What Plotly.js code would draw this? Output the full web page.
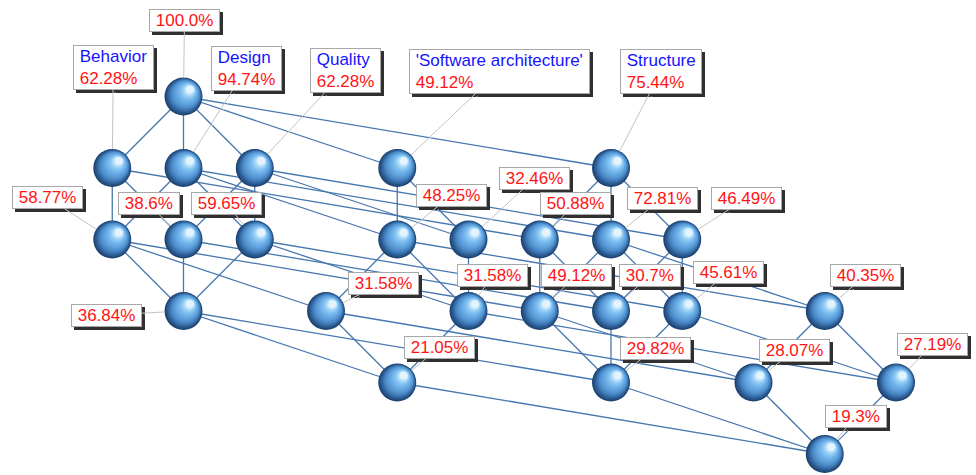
<!DOCTYPE html>
<html>
<head>
<meta charset="utf-8">
<script src="https://cdn.plot.ly/plotly-3.0.1.min.js"></script>
<style>
  html, body { margin: 0; padding: 0; background: #ffffff; }
  #chart { width: 976px; height: 475px; overflow: hidden; }
</style>
</head>
<body>
<div id="chart"></div>
<script>
// ---------------- DATA ----------------
const attributeKeys = ['B', 'D', 'Q', 'S', 'T'];
const attributeNames = ['Behavior', 'Design', 'Quality', "'Software architecture'", 'Structure'];

// concept intents (sets of attribute keys) of the lattice
const conceptIntents = [
  '',
  'B', 'D', 'Q', 'S', 'T',
  'BD', 'BQ', 'DQ', 'DS', 'QS', 'BT', 'DT', 'QT',
  'BDQ', 'BDS', 'DQS', 'BDT', 'BQT', 'DQT', 'DST',
  'BDQS', 'BDQT', 'BDST', 'DQST',
  'BDQST'
];
// support (percentage of objects) of each concept
const conceptSupport = [
  100.0,
  62.28, 94.74, 62.28, 49.12, 75.44,
  58.77, 38.6, 59.65, 48.25, 32.46, 50.88, 72.81, 46.49,
  36.84, 31.58, 31.58, 49.12, 30.7, 45.61, 40.35,
  21.05, 29.82, 28.07, 27.19,
  19.3
];

// ---------------- LAYOUT PARAMETERS ----------------
// horizontal layout vector (in columns) of each attribute
const attributeColumn = { B: -1, D: 0, Q: 1, S: 3, T: 6 };
// label box offsets from node (pixels)
const labelDx = [1, 1, 63, 91, 102, 50, -65, -35, -28, 54, 66, 36, 51, 64, -77, 57, 24, 37, 39, 46, 41, 42, 44, 41, 36, 31];
const labelDy = [-76, -101, -100, -98, -97, -97, -42, -36, -36, -44, -61, -36, -41, -41, 4, -28, -36, -36, -36, -39, -36, -35, -34, -32, -38, -38];

const W = 976, H = 475;
const COL_PX = 71.25, ROW_PX = 71.5, X0 = 183.5, Y0 = 96.5;
const NODE_SIZE = 38;
const FONT = 'Liberation Sans, Arial, sans-serif';
const SHADOW = 3;

// sphere shading stops (t: 0 = rim, 1 = highlight)
const shadeStops = [
  [0.00, [30, 68, 114]],
  [0.14, [48, 100, 156]],
  [0.30, [76, 138, 200]],
  [0.50, [98, 165, 224]],
  [0.70, [124, 189, 239]],
  [0.85, [162, 212, 247]],
  [1.00, [228, 244, 254]]
];
const SHADE_LAYERS = 16;
const LIGHT_DX = 6.5, LIGHT_DY = -7;   // pixel direction of the highlight

// ---------------- BUILD ----------------
const nodeX = conceptIntents.map(s => s.split('').reduce((a, k) => a + attributeColumn[k], 0));
const nodeY = conceptIntents.map(s => s.length);

function isSubset(a, b) { return a.split('').every(c => b.includes(c)); }
const edgeX = [], edgeY = [];
for (let i = 0; i < conceptIntents.length; i++) {
  for (let j = 0; j < conceptIntents.length; j++) {
    const a = conceptIntents[i], b = conceptIntents[j];
    if (a.length >= b.length || !isSubset(a, b)) continue;
    let cover = true;
    for (let k = 0; k < conceptIntents.length && cover; k++) {
      const c = conceptIntents[k];
      if (c.length > a.length && c.length < b.length && isSubset(a, c) && isSubset(c, b)) cover = false;
    }
    if (cover) { edgeX.push(nodeX[i], nodeX[j], null); edgeY.push(nodeY[i], nodeY[j], null); }
  }
}

const pxX = px => px / COL_PX;
const pxY = px => px / ROW_PX;

function shade(t) {
  for (let i = 1; i < shadeStops.length; i++) {
    if (t <= shadeStops[i][0]) {
      const [t0, c0] = shadeStops[i - 1], [t1, c1] = shadeStops[i];
      const f = (t - t0) / (t1 - t0);
      const c = c0.map((v, k) => Math.round(v + (c1[k] - v) * f));
      return 'rgb(' + c.join(',') + ')';
    }
  }
  return 'rgb(' + shadeStops[shadeStops.length - 1][1].join(',') + ')';
}

const traces = [{
  x: edgeX, y: edgeY, mode: 'lines', type: 'scatter', hoverinfo: 'skip',
  line: { color: '#4677b0', width: 1.3 }
}];
for (let k = 0; k < SHADE_LAYERS; k++) {
  const t = k / (SHADE_LAYERS - 1);
  const size = NODE_SIZE * (1 - 0.8 * t);
  traces.push({
    x: nodeX.map(v => v + pxX(LIGHT_DX * t)),
    y: nodeY.map(v => v + pxY(LIGHT_DY * t)),
    mode: 'markers', type: 'scatter', hoverinfo: 'skip',
    marker: { size: size, color: shade(t), line: { width: 0 } }
  });
}

const NB = '\u00A0';
const shadows = [], labels = [];
conceptIntents.forEach((s, i) => {
  const v = conceptSupport[i];
  const pct = (Number.isInteger(v) ? v.toFixed(1) : String(v)) + '%';
  let plain, rich;
  if (s.length === 1) {
    const name = attributeNames[attributeKeys.indexOf(s)];
    plain = NB + name + NB + '<br>' + NB + pct + NB;
    rich = NB + '<span style="color:#1414ff">' + name + '</span>' + NB + '<br>' + NB +
           '<span style="color:#ff1414">' + pct + '</span>' + NB;
  } else {
    plain = NB + pct + NB;
    rich = NB + '<span style="color:#ff1414">' + pct + '</span>' + NB;
  }
  const common = {
    x: nodeX[i], y: nodeY[i], xref: 'x', yref: 'y',
    showarrow: true, arrowhead: 0, arrowwidth: 1, standoff: NODE_SIZE / 2,
    align: 'left', borderpad: 1, borderwidth: 1
  };
  shadows.push(Object.assign({}, common, {
    ax: labelDx[i] + SHADOW, ay: labelDy[i] + SHADOW,
    text: plain, bgcolor: '#303030', bordercolor: '#303030',
    arrowcolor: '#ffffff', arrowwidth: 0.5,
    font: { family: FONT, size: 17, color: '#303030' }
  }));
  labels.push(Object.assign({}, common, {
    ax: labelDx[i], ay: labelDy[i],
    text: rich, bgcolor: '#ffffff', bordercolor: '#a8a8a8', arrowcolor: '#c4c4c4',
    font: { family: FONT, size: 17, color: '#ff1414' }
  }));
});

const layout = {
  width: W, height: H, autosize: false,
  margin: { l: 0, r: 0, t: 0, b: 0, pad: 0 },
  paper_bgcolor: '#ffffff', plot_bgcolor: '#ffffff',
  showlegend: false,
  xaxis: { range: [(0 - X0) / COL_PX, (W - X0) / COL_PX], visible: false, fixedrange: true },
  yaxis: { range: [(H - Y0) / ROW_PX, (0 - Y0) / ROW_PX], visible: false, fixedrange: true },
  annotations: shadows.concat(labels)
};

Plotly.newPlot('chart', traces, layout, { staticPlot: true, displayModeBar: false });
</script>
</body>
</html>
